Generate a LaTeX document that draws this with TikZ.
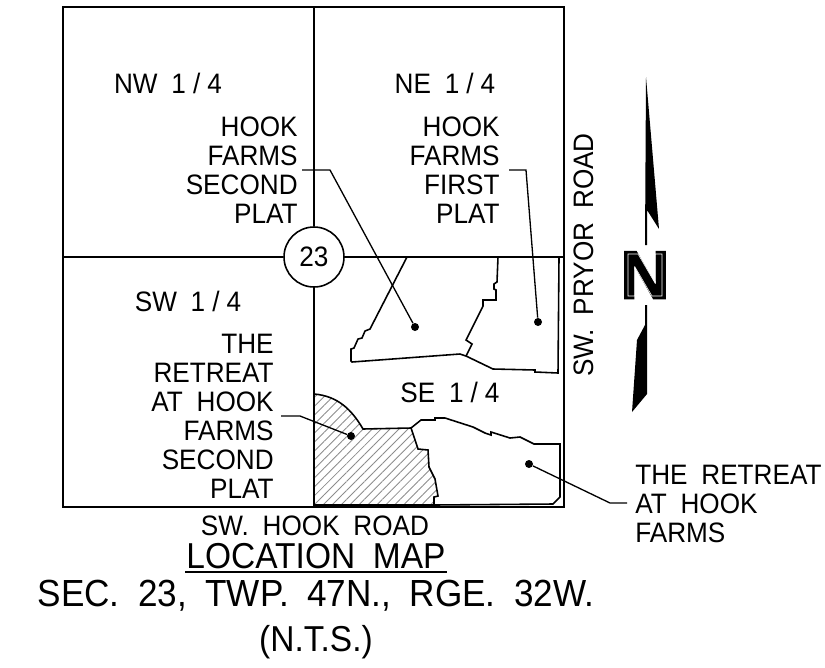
\documentclass[tikz,border=0pt]{standalone}
\usepackage{fontspec}
\setmainfont[FakeStretch=0.93,WordSpace=1.9]{Liberation Sans}
\newfontfamily\northfont[FakeBold=2]{Liberation Sans Bold}
\usetikzlibrary{patterns.meta}
\newcommand\qtr{1\kern4pt/\kern4pt4}
\begin{document}
\begin{tikzpicture}[x=0.02cm,y=-0.02cm,inner sep=0pt,line join=miter,
  txt/.style={font=\fontsize{16}{16.5}\selectfont},
  big/.style={font=\fontsize{20.5}{22}\selectfont},
  dot/.style={circle,fill,minimum size=0.16cm},
  sec/.style={line width=0.9pt},
  lead/.style={line width=0.75pt},
  parcel/.style={line width=0.9pt}]
\useasboundingbox (0,0) rectangle (825,667);
% hatched plat
\path[pattern={Lines[angle=45,distance=3.6pt,line width=0.5pt]},pattern color=black!45]
  (314,394) .. controls (338,396) and (352,410) .. (363,429) -- (411,428) -- (418,449) -- (428,450) -- (429,467) -- (435,479) -- (438,496) -- (434,497) -- (434,505) -- (314,505) -- cycle;
% section lines
\draw[sec] (63,7) rectangle (564,507);
\coordinate (top) at (314,7);
\coordinate (bot) at (314,507);
\coordinate (lft) at (63,257);
\coordinate (rgt) at (564,257);
\node[circle,draw,sec,fill=white,minimum size=1.2cm,txt] (sn) at (314,257) {23};
\draw[sec] (top) -- (sn) -- (bot) (lft) -- (sn) -- (rgt);
%
\node[txt] (nw) at (168,83) {NW \qtr};
\node[txt] (ne) at (445,83) {NE \qtr};
\node[txt] (sw) at (188,301) {SW \qtr};
\node[txt] (se) at (450,392) {SE \qtr};
\node[txt,align=right,anchor=east] (p2) at (298,170.5) {HOOK\\FARMS\\SECOND\\PLAT};
\node[txt,align=right,anchor=east] (p1) at (500,170.5) {HOOK\\FARMS\\FIRST\\PLAT};
\node[txt,align=right,anchor=east] (r2) at (274,416.5) {THE\\RETREAT\\AT HOOK\\FARMS\\SECOND\\PLAT};
\node[txt,align=left,anchor=west] (r1) at (635,504) {THE RETREAT\\AT HOOK\\FARMS};
\node[txt,rotate=90] (pryor) at (584,255) {SW. PRYOR ROAD};
\node[txt] (hook) at (315,526) {SW. HOOK ROAD};
\node[big] (lm) at (316,556) {LOCATION MAP};
\node[big,font=\fontsize{21.5}{22}\selectfont] (sec) at (316,596) {SEC. 23, TWP. 47N., RGE. 32W.};
\node[big] (nts) at (316,642) {(N.T.S.)};
\coordinate (ula) at (185,572);
\coordinate (ulb) at (447,572);
\draw[lead] (ula) -- (ulb);
% parcels
\draw[parcel] (407,257) -- (370,329) -- (365,331) -- (362,338) -- (358,339) -- (354,348) -- (351,349) -- (351,361) -- (352,362) -- (460,354) -- (466,356) -- (493,369) -- (535,370) -- (535,372) -- (558,373) -- (559,258);
\draw[parcel] (498,257) -- (497,282) -- (494,284) -- (494,289) -- (496,290) -- (496,300) -- (483,300) -- (483,306) -- (466,340) -- (472,344) -- (466,356);
\draw[parcel] (314,394) .. controls (338,396) and (352,410) .. (363,429) -- (411,428) -- (418,449) -- (428,450) -- (429,467) -- (435,479) -- (438,496) -- (434,497) -- (434,505) -- (314,505);
\draw[parcel] (411,428) -- (421,420) -- (435,420) -- (435,418) -- (445,418) -- (473,427) -- (485,433) -- (491,435) -- (491,432) -- (510,438) -- (520,437) -- (534,444) -- (560,444) -- (560,497) -- (553,504) -- (434,505);
% leaders
\node[dot] (d2) at (415,327) {};
\node[dot] (d1) at (538,322) {};
\node[dot] (d3) at (351,436) {};
\node[dot] (d4) at (529,464) {};
\coordinate (e2) at (302,170);
\coordinate (f2) at (330,170);
\coordinate (e1) at (509,170);
\coordinate (f1) at (526,170);
\coordinate (e3) at (281,416);
\coordinate (f3) at (300,416);
\coordinate (e4) at (627,503);
\coordinate (f4) at (610,503);
\draw[lead] (e2) -- (f2) -- (d2);
\draw[lead] (e1) -- (f1) -- (d1);
\draw[lead] (e3) -- (f3) -- (d3);
\draw[lead] (e4) -- (f4) -- (d4);
% north arrow
\fill (646,77) -- (659,229) -- (647,210) -- (647,245) -- (645,245) -- cycle;
\fill (645,305) -- (647,305) -- (647,394) -- (632,412) -- (637,340) -- (645,325) -- cycle;
\node[font=\northfont\fontsize{39}{39}\selectfont] (nn) at (645,275) {N};
\draw[white,line width=0.3pt] (628,254) -- (638,254) -- (655,283) -- (655,254) -- (662,254) -- (662,296) -- (652,296) -- (635,267) -- (635,296) -- (628,296) -- cycle;
\end{tikzpicture}
\end{document}
